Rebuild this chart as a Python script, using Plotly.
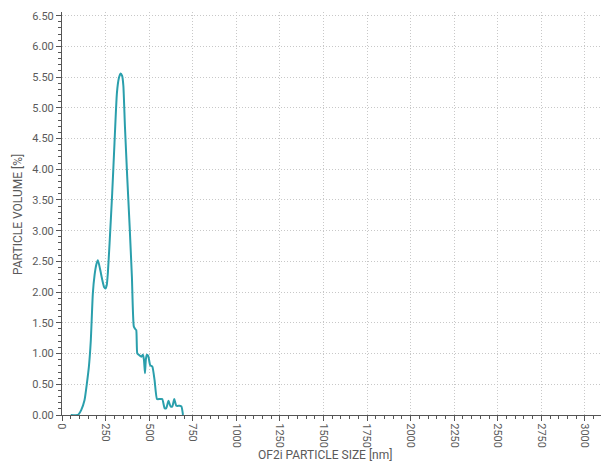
import plotly.graph_objects as go

size_nm = [50, 91, 110, 129, 143, 154, 165, 177, 187, 197, 206, 218, 231, 242, 250, 257, 263, 273, 288, 301, 315, 326, 336, 345, 352, 361, 374, 388, 401, 412, 420, 426, 432, 441, 455, 464, 470, 476, 481, 487, 495, 506, 518, 531, 545, 560, 575, 589, 598, 611, 623, 633, 644, 656, 675, 685, 694]
volume_pct = [0.0, 0.0, 0.08, 0.24, 0.52, 0.78, 1.2, 1.98, 2.28, 2.45, 2.52, 2.38, 2.2, 2.08, 2.06, 2.12, 2.31, 2.8, 3.61, 4.42, 5.24, 5.48, 5.56, 5.52, 5.36, 4.7, 3.88, 3.07, 2.25, 1.44, 1.40, 1.38, 1.0, 0.98, 0.95, 0.98, 0.9, 0.68, 0.9, 0.98, 0.96, 0.81, 0.79, 0.57, 0.26, 0.26, 0.26, 0.11, 0.11, 0.23, 0.14, 0.14, 0.26, 0.15, 0.15, 0.14, 0.0]

x_ticks = list(range(0, 3001, 250))
y_ticks = [i * 0.5 for i in range(14)]

fig = go.Figure(go.Scatter(
    x=size_nm, y=volume_pct, mode="lines",
    line=dict(color="#2a9fac", width=2, shape="spline", smoothing=0.5),
))

W, H = 601, 464
ML, MR, MT, MB = 62, 0, 12, 49
TXT = "#5a5a5a"
fig.update_layout(
    width=W, height=H,
    margin=dict(l=ML, r=MR, t=MT, b=MB, autoexpand=False),
    paper_bgcolor="white", plot_bgcolor="white",
    showlegend=False,
    font=dict(family="Roboto", size=11, color=TXT),
)
fig.update_xaxes(
    range=[0, 3092], tickvals=x_ticks, ticktext=[str(v) for v in x_ticks],
    tickangle=90, showgrid=True, gridcolor="#c8c8c8", griddash="1px,2px", gridwidth=1,
    showline=True, linecolor="#555555", linewidth=1,
    ticks="outside", ticklen=5, tickcolor="#555555",
    minor=dict(dtick=50, ticks="outside", ticklen=3, tickcolor="#555555", showgrid=False),
    zeroline=False, automargin=False,
)
fig.update_yaxes(
    range=[0, 6.56], tickvals=y_ticks, ticktext=[f"{v:.2f}" for v in y_ticks],
    showgrid=True, gridcolor="#c8c8c8", griddash="1px,2px", gridwidth=1,
    showline=True, linecolor="#555555", linewidth=1,
    ticks="outside", ticklen=5, tickcolor="#555555",
    minor=dict(dtick=0.1, ticks="outside", ticklen=3, tickcolor="#555555", showgrid=False),
    zeroline=False, automargin=False,
)
pw = W - ML - MR
ph = H - MT - MB
fig.add_annotation(
    text="OF2i PARTICLE SIZE [nm]", xref="paper", yref="paper",
    x=(325 - ML) / pw, y=-(455 - (H - MB)) / ph, showarrow=False,
    xanchor="center", yanchor="middle", font=dict(size=12, color=TXT),
)
fig.add_annotation(
    text="PARTICLE VOLUME [%]", xref="paper", yref="paper",
    x=-(ML - 18) / pw, y=(H - MB - 215) / ph, showarrow=False, textangle=-90,
    xanchor="center", yanchor="middle", font=dict(size=12, color=TXT),
)

fig.write_html("out.html", config={"displayModeBar": False},
               post_script="document.body.style.margin='0';document.body.style.overflow='hidden';")
